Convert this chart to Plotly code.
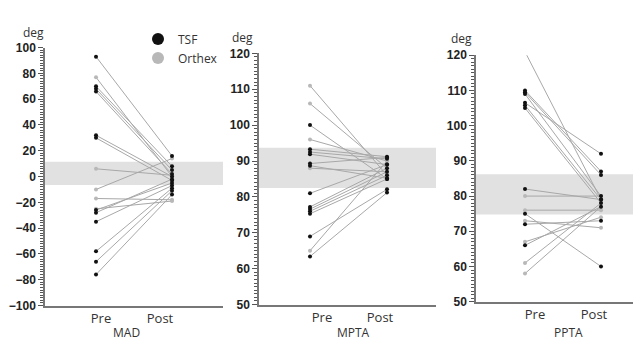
import plotly.graph_objects as go

# ---------------- data ----------------
stages = ["Pre", "Post"]
panels = ["MAD", "MPTA", "PPTA"]

mad_tsf_pre = [93, 70, 68, 66, 32, 30, -26, -28, -35, -58, -66, -76]
mad_tsf_post = [16, 8, 5, 2, 0, -3, -5, -2, -7, -9, -11, -14]
mad_ox_pre = [77, 6, -10, -17, -25]
mad_ox_post = [0, 1, 14, -18, -19]
mad_normal = [-6.5, 11.5]

mpta_tsf_pre = [100, 93.3, 92.5, 91.9, 89.3, 88.7, 81, 77.2, 76.6, 76, 75.3, 69, 63.4]
mpta_tsf_post = [85, 91.2, 90.6, 89, 91, 85.2, 89, 88, 87, 86, 85, 82.1, 81.2]
mpta_ox_pre = [111, 106, 96, 88, 65]
mpta_ox_post = [86, 88, 90, 87, 90]
mpta_normal = [82.5, 93.7]

ppta_tsf_pre = [110, 109.5, 109, 106.5, 105.8, 105, 82, 75, 72, 66]
ppta_tsf_post = [87, 86, 80, 92, 79, 78, 79, 60, 73, 77]
ppta_ox_pre = [121, 80, 76, 73, 67, 61, 58]
ppta_ox_post = [79, 80, 76, 71, 74, 78, 77]
ppta_normal = [74.8, 86.2]

W, H = 641, 340
TSF_COLOR = "#111111"
OX_COLOR = "#b8b8b8"
LINE_COLOR = "#a8a8a8"

fig = go.Figure()


def add_pairs(pre, post, color, n):
    for a, b in zip(pre, post):
        fig.add_trace(go.Scatter(
            x=[0, 1], y=[a, b], mode="lines+markers",
            line=dict(color=LINE_COLOR, width=1),
            marker=dict(color=color, size=4),
            xaxis="x" + ("" if n == 1 else str(n)),
            yaxis="y" + ("" if n == 1 else str(n)),
            showlegend=False, hoverinfo="skip"))


add_pairs(mad_ox_pre, mad_ox_post, OX_COLOR, 1)
add_pairs(mad_tsf_pre, mad_tsf_post, TSF_COLOR, 1)
add_pairs(mpta_ox_pre, mpta_ox_post, OX_COLOR, 2)
add_pairs(mpta_tsf_pre, mpta_tsf_post, TSF_COLOR, 2)
add_pairs(ppta_ox_pre, ppta_ox_post, OX_COLOR, 3)
add_pairs(ppta_tsf_pre, ppta_tsf_post, TSF_COLOR, 3)

# legend entries
fig.add_trace(go.Scatter(x=[None], y=[None], mode="markers", name="TSF",
                         marker=dict(color=TSF_COLOR, size=9)))
fig.add_trace(go.Scatter(x=[None], y=[None], mode="markers", name="Orthex",
                         marker=dict(color=OX_COLOR, size=9)))


def px(xp):
    return xp / W


def py(yp):
    return 1 - yp / H


# panel geometry in pixels
geo = [
    (37, 215, 34, 303, 88, 164, 93, 152),
    (251, 428, 40, 302, 302, 379, 314, 372),
    (468, 641, 42, 299, 517, 593, 527, 586),
]
deg_pos = [(25, 18), (234, 23), (453, 25)]
title_x = [118, 345, 560]
yranges = [[-100, 100], [50, 120], [50, 120]]
ydticks = [20, 10, 10]
yminor = [2, 1, 1]
normals = [mad_normal, mpta_normal, ppta_normal]

tickfont = dict(family="Liberation Sans, Arial", size=12, color="#222222", weight="bold")
labfont = dict(family="Open Sans, Liberation Sans", size=13, color="#333333")

layout = dict(
    width=W, height=H, margin=dict(l=0, r=0, t=0, b=0),
    plot_bgcolor="white", paper_bgcolor="white",
    showlegend=True,
    legend=dict(x=px(130), y=py(10), xanchor="left", yanchor="top",
                font=dict(family="Open Sans, Liberation Sans", size=12, color="#333"),
                bgcolor="rgba(0,0,0,0)", itemsizing="constant", tracegroupgap=0),
)
shapes = []
annotations = []
for i, (l, r, t, b, xpre, xpost, lpre, lpost) in enumerate(geo):
    n = i + 1
    sx = "" if n == 1 else str(n)
    unit = xpost - xpre
    xr = [-(xpre - l) / unit, (r - xpre) / unit]
    layout["xaxis" + sx] = dict(
        domain=[px(l), px(r)], range=xr, anchor="y" + sx,
        showgrid=False, zeroline=False, showline=True, linecolor="#777", linewidth=1.5,
        tickmode="array", tickvals=[(lpre - xpre) / unit, (lpost - xpre) / unit],
        ticktext=stages, ticks="", tickfont=labfont, fixedrange=True)
    layout["yaxis" + sx] = dict(
        domain=[py(b), py(t)], range=yranges[i], anchor="x" + sx,
        showgrid=False, zeroline=False, showline=True, linecolor="#777", linewidth=1.5,
        tickmode="linear", tick0=0, dtick=ydticks[i], ticks="outside", ticklen=5,
        tickcolor="#555", tickwidth=1.2, tickfont=tickfont,
        minor=dict(tickmode="linear", tick0=0, dtick=yminor[i], ticks="outside", ticklen=3,
                   tickcolor="#555", tickwidth=1, showgrid=False),
        fixedrange=True)
    shapes.append(dict(type="rect", xref="x" + sx + " domain", yref="y" + sx,
                       x0=0, x1=1, y0=normals[i][0], y1=normals[i][1],
                       fillcolor="#e1e1e1", line=dict(width=0), layer="below"))
    annotations.append(dict(text="deg", xref="paper", yref="paper",
                            x=px(deg_pos[i][0]), y=py(deg_pos[i][1]), xanchor="center", yanchor="middle",
                            showarrow=False, font=dict(family="Open Sans, Liberation Sans", size=12, color="#333")))
    annotations.append(dict(text=panels[i], xref="paper", yref="paper",
                            x=px(title_x[i]), y=py(331), xanchor="center", yanchor="middle",
                            showarrow=False, font=dict(family="Open Sans, Liberation Sans", size=12, color="#333")))

layout["shapes"] = shapes
layout["annotations"] = annotations
fig.update_layout(**layout)
fig.write_html("out.html")
